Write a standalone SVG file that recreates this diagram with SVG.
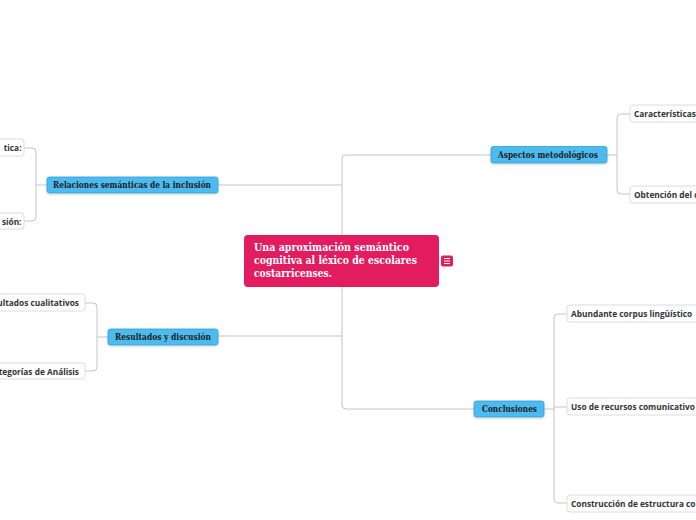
<svg xmlns="http://www.w3.org/2000/svg" width="696" height="520" viewBox="0 0 696 520">
<style>
.conn{fill:none;stroke:#c4c4c4;stroke-width:1}
.main rect{fill:#4dbbef;stroke:#2f9fd6;stroke-width:0.8}
.main text{font-family:"DejaVu Serif","Liberation Serif",serif;font-weight:bold;font-size:8.5px;fill:#1b1b1b}
.child rect{fill:#ffffff;stroke:#dcdcdc;stroke-width:1}
.child text{font-family:"Open Sans","Noto Sans",sans-serif;font-weight:bold;font-size:8.3px;fill:#333333}
.center text{font-family:"DejaVu Serif","Liberation Serif",serif;font-weight:bold;font-size:10.5px;fill:#ffffff}
</style>
<defs>
<filter id="sh" x="-10%" y="-30%" width="120%" height="160%">
<feDropShadow dx="0" dy="1" stdDeviation="0.8" flood-color="#000" flood-opacity="0.2"/>
</filter>
</defs>
<rect width="696" height="520" fill="#ffffff"/>
<g id="connectors">
<path class="conn" d="M342,159 Q342,155 346,155 L491,155"/>
<path class="conn" d="M342,159 L342,405 Q342,409 346,409 L474,409"/>
<path class="conn" d="M218,185 L342,185"/>
<path class="conn" d="M218,336 L342,336"/>
<path class="conn" d="M607,155 L617,155"/>
<path class="conn" d="M630,114 L621,114 Q617,114 617,118 L617,190 Q617,194 621,194 L630,194"/>
<path class="conn" d="M544,409 L554,409"/>
<path class="conn" d="M567,314 L558,314 Q554,314 554,318 L554,499 Q554,503 558,503 L567,503"/>
<path class="conn" d="M554,407 L567,407"/>
<path class="conn" d="M47,185 L36,185"/>
<path class="conn" d="M24,148 L32,148 Q36,148 36,152 L36,217 Q36,221 32,221 L24,221"/>
<path class="conn" d="M108,337 L97,337"/>
<path class="conn" d="M85,303 L93,303 Q97,303 97,307 L97,367 Q97,371 93,371 L85,371"/>
</g>
<g id="center" class="center">
<rect x="244" y="235" width="195" height="52" rx="4" fill="#e31b5f"/>
<text x="254" y="251" textLength="155" lengthAdjust="spacingAndGlyphs">Una aproximación semántico</text>
<text x="254" y="264" textLength="163" lengthAdjust="spacingAndGlyphs">cognitiva al léxico de escolares</text>
<text x="254" y="277" textLength="78" lengthAdjust="spacingAndGlyphs">costarricenses.</text>
</g>
<g id="note-icon">
<rect x="441" y="255.5" width="12" height="11" rx="2" fill="#e31b5f"/>
<path d="M444,258.5 H450 M444,261 H450 M444,263.5 H450" stroke="#ffffff" stroke-width="1"/>
</g>
<g id="aspectos" class="main">
<rect x="491" y="146.5" width="116" height="16.5" rx="2.5" filter="url(#sh)"/>
<text x="498" y="158" textLength="100" lengthAdjust="spacingAndGlyphs">Aspectos metodológicos</text>
</g>
<g id="conclusiones" class="main">
<rect x="474" y="401" width="70" height="16" rx="2.5" filter="url(#sh)"/>
<text x="482" y="412" textLength="55" lengthAdjust="spacingAndGlyphs">Conclusiones</text>
</g>
<g id="relaciones" class="main">
<rect x="47" y="177" width="171" height="16" rx="2.5" filter="url(#sh)"/>
<text x="53" y="188.3" textLength="158" lengthAdjust="spacingAndGlyphs">Relaciones semánticas de la inclusión</text>
</g>
<g id="resultados" class="main">
<rect x="108" y="329" width="110" height="16" rx="2.5" filter="url(#sh)"/>
<text x="115" y="340.3" textLength="96" lengthAdjust="spacingAndGlyphs">Resultados y discusión</text>
</g>
<g id="caracteristicas" class="child">
<rect x="630" y="105" width="90" height="17" rx="3"/>
<text x="634" y="116.5">Características</text>
</g>
<g id="obtencion" class="child">
<rect x="630" y="186" width="90" height="17" rx="3"/>
<text x="634" y="197.5">Obtención del c</text>
</g>
<g id="abundante" class="child">
<rect x="567" y="305" width="140" height="17" rx="3"/>
<text x="571" y="316.5">Abundante corpus lingüístico</text>
</g>
<g id="uso" class="child">
<rect x="567" y="398" width="140" height="17" rx="3"/>
<text x="571" y="409.5">Uso de recursos comunicativo</text>
</g>
<g id="construccion" class="child">
<rect x="567" y="495" width="140" height="17" rx="3"/>
<text x="571" y="506.5">Construcción de estructura co</text>
</g>
<g id="rel-child-1" class="child">
<rect x="-60" y="139" width="84" height="17" rx="3"/>
<text x="21.5" y="150.5" text-anchor="end">tica:</text>
</g>
<g id="rel-child-2" class="child">
<rect x="-60" y="213" width="84" height="16" rx="3"/>
<text x="21.5" y="224.5" text-anchor="end">sión:</text>
</g>
<g id="res-child-1" class="child">
<rect x="-60" y="294" width="145" height="17" rx="3"/>
<text x="79" y="305.5" text-anchor="end">ultados cualitativos</text>
</g>
<g id="res-child-2" class="child">
<rect x="-60" y="363" width="145" height="16" rx="3"/>
<text x="79" y="374.5" text-anchor="end">tegorías de Análisis</text>
</g>
</svg>
